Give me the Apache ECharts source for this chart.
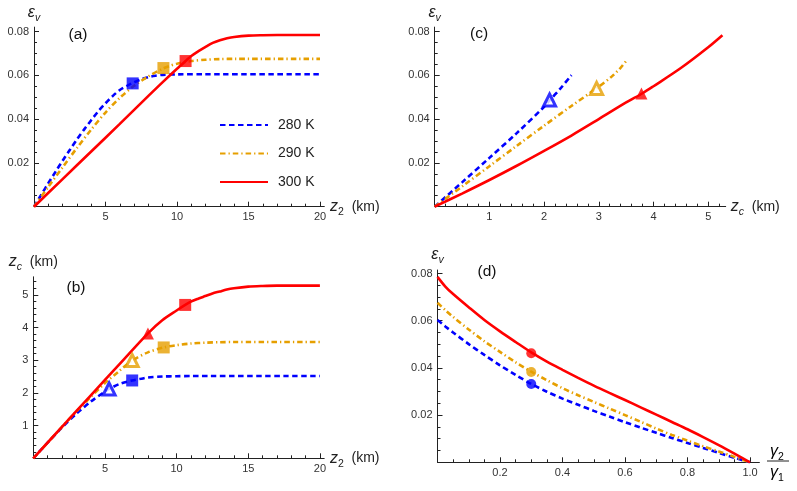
<!DOCTYPE html>
<html><head><meta charset="utf-8">
<script src="https://cdn.jsdelivr.net/npm/echarts@6/dist/echarts.min.js"></script>
<style>html,body{margin:0;padding:0;background:#fff}#c{width:797px;height:491px}</style>
</head><body><div id="c"></div>
<script>
// ---------------- data ----------------
const seriesNames = ['280 K', '290 K', '300 K'];

// panel (a): eps_v vs z2 (km)
const a280_z2 = [0,0.5,1,1.5,2,2.5,3,3.5,4,4.5,5,5.5,6,6.5,6.9,7.5,8,8.5,9,10,12,20];
const a280_ev = [0,0.0054,0.0107,0.0159,0.021,0.0259,0.0307,0.0352,0.0395,0.0436,0.0472,0.0505,0.0533,0.0552,0.0565,0.0582,0.0592,0.0598,0.0602,0.0604,0.0605,0.0605];
const a290_z2 = [0,1,2,3,4,5,6,7,8,9,9.5,10,11,12,13,14,20];
const a290_ev = [0,0.0091,0.018,0.0268,0.0352,0.043,0.0497,0.0552,0.0595,0.063,0.0643,0.0653,0.0665,0.0671,0.0674,0.0675,0.0675];
const a300_z2 = [0,2,4,6,8,9,10,10.6,11,11.5,12,12.5,13,13.5,14,15,16,17,20];
const a300_ev = [0,0.0126,0.0252,0.0378,0.0506,0.0569,0.063,0.0665,0.0688,0.071,0.073,0.0748,0.076,0.0769,0.0775,0.0781,0.0783,0.0784,0.0784];
const aSquares = [[6.9,0.0563],[9.05,0.0633],[10.6,0.0665]];

// panel (b): z_c (km) vs z2 (km)
const b280_z2 = [0,1,2,3,4,5,5.29,6,6.9,7.5,8,9,10,11,20];
const b280_zc = [0,0.48,0.94,1.36,1.73,2.04,2.12,2.27,2.38,2.43,2.47,2.5,2.51,2.515,2.515];
const b290_z2 = [0,1,2,3,4,5,6,6.9,8,9.1,10,11,12,13,14,20];
const b290_zc = [0,0.48,0.96,1.43,1.87,2.3,2.67,2.99,3.24,3.39,3.46,3.51,3.535,3.55,3.555,3.555];
const b300_z2 = [0,2,4,6,8,9,10,10.6,11,11.5,12,12.5,13,13.5,14,15,16,17,20];
const b300_zc = [0,0.96,1.92,2.87,3.82,4.22,4.52,4.69,4.79,4.88,4.96,5.04,5.1,5.16,5.2,5.25,5.27,5.28,5.28];
const bSquares = [[6.9,2.38],[9.1,3.39],[10.6,4.69]];
const bTriangles = [[5.29,2.12],[6.9,2.99],[8.0,3.82]];

// panel (c): eps_v vs z_c (km)
const c280_zc = [0,0.5,1,1.5,2,2.1,2.3,2.5];
const c280_ev = [0,0.0111,0.0223,0.0336,0.0456,0.0485,0.054,0.0601];
const c290_zc = [0,0.5,1,1.5,2,2.5,2.96,3.24,3.39,3.5];
const c290_ev = [0,0.0092,0.0185,0.0278,0.037,0.046,0.0541,0.0595,0.0632,0.0665];
const c300_zc = [0,0.5,1,1.5,2,2.5,3,3.5,3.8,4,4.5,5,5.26];
const c300_ev = [0,0.006,0.0122,0.0187,0.0255,0.0325,0.04,0.0476,0.0518,0.055,0.0633,0.0728,0.0783];
const cTriangles = [[2.1,0.0487],[2.96,0.054],[3.78,0.0517]];

// panel (d): eps_v vs gamma2/gamma1
const d_g = [0,0.025,0.05,0.1,0.15,0.2,0.25,0.3,0.35,0.4,0.45,0.5,0.55,0.6,0.65,0.7,0.75,0.8,0.85,0.9,0.95,1.0];
const d280_ev = [0.0603,0.0576,0.055,0.0501,0.0455,0.0411,0.037,0.0332,0.0299,0.027,0.0244,0.0218,0.0194,0.017,0.0147,0.0125,0.0103,0.0082,0.0061,0.004,0.0019,0];
const d290_ev = [0.0676,0.0645,0.0616,0.0563,0.0513,0.0468,0.0424,0.0384,0.0348,0.0314,0.0284,0.0256,0.0228,0.02,0.0172,0.0143,0.0116,0.0092,0.0068,0.0046,0.0023,0];
const d300_ev = [0.0786,0.0745,0.0713,0.0657,0.0603,0.0555,0.051,0.0466,0.0427,0.0392,0.0358,0.0325,0.0294,0.0264,0.0233,0.0202,0.0171,0.014,0.0107,0.0073,0.0037,0];
const dCircles = [[0.3,0.0332],[0.3,0.0383],[0.3,0.0462]];

// tick labels
const ticksZ2 = [5,10,15,20];
const ticksEv = [0.02,0.04,0.06,0.08];
const ticksZc = [1,2,3,4,5];
const ticksG = [0.2,0.4,0.6,0.8,1.0];

// ---------------- styling ----------------
const colors = ['#0000ff', '#e69f00', '#ff0000'];
const lineTypes = [[5.5,3.5], [5.5,3,1.3,3], 'solid'];
const FONT = 'Liberation Sans';
const AX = '#222';
const zip = (xs, ys) => xs.map((x, i) => [x, ys[i]]);
function minors(step, max, majors) {
  const out = [];
  for (let k = 1; k * step <= max + 1e-9; k++) {
    const v = +(k * step).toFixed(6);
    if (!majors.some(m => Math.abs(m - v) < 1e-9)) out.push(v);
  }
  return out;
}
const rich = {
  it: {fontFamily: FONT, fontStyle: 'italic', fontSize: 16, color: AX, lineHeight: 20, verticalAlign: 'middle'},
  sub: {fontFamily: FONT, fontSize: 10.5, color: AX, lineHeight: 22, verticalAlign: 'bottom'},
  subi: {fontFamily: FONT, fontStyle: 'italic', fontSize: 10.5, color: AX, lineHeight: 22, verticalAlign: 'bottom'},
  n: {fontFamily: FONT, fontSize: 14, color: AX, lineHeight: 20, verticalAlign: 'middle'}
};
const labelStyle = {fontFamily: FONT, fontSize: 11, color: '#333'};

function axisPair(dim, grid, min, max, majors, minorStep, fmt, name, nameGap) {
  const pos = dim === 'x' ? 'bottom' : 'left';
  const main = {
    type: 'value', gridIndex: grid, min, max, position: pos,
    axisLine: {show: true, onZero: false, lineStyle: {color: AX, width: 1}},
    axisTick: {show: true, inside: true, length: 5, customValues: majors, lineStyle: {color: AX}},
    axisLabel: Object.assign({show: true, customValues: majors, formatter: fmt, margin: 5}, labelStyle),
    splitLine: {show: false},
    name, nameLocation: 'end', nameGap, nameTextStyle: {rich}
  };
  const minor = {
    type: 'value', gridIndex: grid, min, max, position: pos,
    axisLine: {show: false, onZero: false},
    axisTick: {show: true, inside: true, length: 3, customValues: minors(minorStep, max, majors), lineStyle: {color: AX}},
    axisLabel: {show: false}, splitLine: {show: false}
  };
  return [main, minor];
}
const f2 = v => v.toFixed(2), f1 = v => v.toFixed(1), f0 = v => String(Math.round(v));

const grids = [
  {left: 34, top: 27.1, width: 290.3, height: 179.6},
  {left: 33.3, top: 276.8, width: 290.9, height: 181.5},
  {left: 434.7, top: 27.1, width: 291, height: 179.6},
  {left: 437.5, top: 270, width: 321.9, height: 192.3}
];
const xAxes = [].concat(
  axisPair('x', 0, 0, 20.3, ticksZ2, 1, f0, '{it|z}{sub|2}{n|  (km)}', 5),
  axisPair('x', 1, 0, 20.3, ticksZ2, 1, f0, '{it|z}{sub|2}{n|  (km)}', 5),
  axisPair('x', 2, 0, 5.32, ticksZc, 0.2, f0, '{it|z}{subi|c}{n|  (km)}', 5),
  axisPair('x', 3, 0, 1.03, ticksG, 0.05, f1, '', 5)
);
const yAxes = [].concat(
  axisPair('y', 0, 0, 0.082, ticksEv, 0.005, f2, '{it|ε}{subi|v}', 4),
  axisPair('y', 1, 0, 5.55, ticksZc, 0.2, f0, '{it|z}{subi|c}{n|  (km)}', 4),
  axisPair('y', 2, 0, 0.082, ticksEv, 0.005, f2, '{it|ε}{subi|v}', 4),
  axisPair('y', 3, 0, 0.0815, ticksEv, 0.005, f2, '{it|ε}{subi|v}', 4)
);

const panels = [
  [zip(a280_z2, a280_ev), zip(a290_z2, a290_ev), zip(a300_z2, a300_ev)],
  [zip(b280_z2, b280_zc), zip(b290_z2, b290_zc), zip(b300_z2, b300_zc)],
  [zip(c280_zc, c280_ev), zip(c290_zc, c290_ev), zip(c300_zc, c300_ev)],
  [zip(d_g, d280_ev), zip(d_g, d290_ev), zip(d_g, d300_ev)]
];
const series = [];
panels.forEach((curves, p) => {
  curves.forEach((data, i) => {
    series.push({
      type: 'line', name: p === 0 ? seriesNames[i] : seriesNames[i] + ' ' + p,
      xAxisIndex: 2 * p, yAxisIndex: 2 * p, data,
      symbol: 'none', smooth: 0.3, silent: true, z: 2 + i * 0.1,
      lineStyle: {color: colors[i], width: 2.6, type: lineTypes[i], cap: 'butt'},
      itemStyle: {color: colors[i]}
    });
  });
});
function markers(p, pts, symbol, size, openFlags) {
  series.push({
    type: 'scatter', xAxisIndex: 2 * p, yAxisIndex: 2 * p, symbol, symbolSize: size, z: 5, silent: true,
    data: pts.map((v, i) => ({
      value: v,
      itemStyle: openFlags && openFlags[i]
        ? {color: '#fff', borderColor: colors[i], borderWidth: 3}
        : {color: colors[i], borderWidth: 0}
    }))
  });
}
markers(0, aSquares, 'rect', 12);
markers(1, bSquares, 'rect', 12);
markers(1, bTriangles, 'triangle', 12, [true, true, false]);
markers(2, cTriangles, 'triangle', 12, [true, true, false]);
markers(3, dCircles, 'circle', 10);

const panelLabel = (txt, x, y) => ({type: 'text', x, y, style: {text: txt, fontFamily: FONT, fontSize: 15.5, fill: '#111', align: 'center', verticalAlign: 'middle'}});
const option = {
  animation: false,
  backgroundColor: '#fff',
  grid: grids,
  xAxis: xAxes,
  yAxis: yAxes,
  legend: {
    orient: 'vertical', left: 219, top: 118, padding: 0, itemWidth: 48, itemHeight: 14, itemGap: 14.5,
    data: seriesNames, selectedMode: false,
    itemStyle: {opacity: 0},
    textStyle: {fontFamily: FONT, fontSize: 14, color: '#222', padding: [0, 0, 0, 5]}
  },
  series,
  graphic: [
    panelLabel('(a)', 78, 35),
    panelLabel('(c)', 479, 34),
    panelLabel('(b)', 76, 288),
    panelLabel('(d)', 487, 272),
    {type: 'text', x: 777, y: 452, style: {text: '{it|γ}{sub|2}', rich, align: 'center', verticalAlign: 'middle'}},
    {type: 'line', shape: {x1: 767, y1: 461, x2: 789, y2: 461}, style: {stroke: AX, lineWidth: 1}},
    {type: 'text', x: 777, y: 473, style: {text: '{it|γ}{sub|1}', rich, align: 'center', verticalAlign: 'middle'}}
  ]
};
const chart = echarts.init(document.getElementById('c'), null, {renderer: 'canvas'});
chart.setOption(option);
</script>
</body></html>
